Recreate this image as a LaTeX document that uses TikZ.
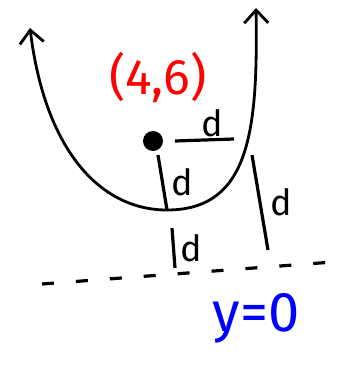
\documentclass[tikz,border=0pt]{standalone}
\usepackage{fontspec}
\setmainfont{Fira Sans}
\usetikzlibrary{arrows.meta}
\tikzset{curve/.style={line width=2.8pt, line cap=round},
  seg/.style={line width=3.2pt},
  lbl/.style={font=\fontsize{36}{36}\selectfont},
  directrix/.style={line width=3.2pt, dash pattern=on 12pt off 22pt}}

\begin{document}
\begin{tikzpicture}[x=1pt,y=-1pt]
\useasboundingbox (0,0) rectangle (341,367);
%\draw[help lines,step=20] (0,0) grid (341,367);
\node[circle,fill,inner sep=0pt,minimum width=20pt,minimum height=16pt] (focus) at (153,141) {};
\node[red,font=\fontsize{50}{50}\selectfont] (fpt) at (158,78) {(4,6)};
\coordinate (vertex) at (167,210);
\coordinate (tipL) at (30,28);
\coordinate (tipR) at (256,8);
\draw [curve,{Straight Barb[length=13pt,width=24pt,line width=2.8pt]}-{Straight Barb[length=13pt,width=24pt,line width=2.8pt]}]
  (tipL) .. controls (45,150) and (100,210) .. (vertex) .. controls (250,210) and (258,130) .. (tipR);
% distances
\coordinate (fa) at (175,141); \coordinate (fb) at (234,139);
\coordinate (fc) at (158,155);
\coordinate (va) at (172,228); \coordinate (vb) at (175,268);
\coordinate (pa) at (252,155); \coordinate (pb) at (268,250);
\draw [seg] (fa) -- (fb) node [lbl,midway,above,xshift=8pt,yshift=-2pt] (d1) {d};
\draw [seg] (fc) -- (vertex) node [lbl,midway,right,xshift=4pt] (d2) {d};
\draw [seg] (va) -- (vb) node [lbl,midway,right,xshift=2pt] (d3) {d};
\draw [seg] (pa) -- (pb) node [lbl,midway,right,xshift=6pt] (d4) {d};
% directrix
\coordinate (dirL) at (42,284);
\coordinate (dirR) at (333,262);
\draw [directrix] (dirL) -- (dirR);
\node[blue,font=\fontsize{56}{56}\selectfont] (dline) at (256,318) {y=0};
\end{tikzpicture}
\end{document}
